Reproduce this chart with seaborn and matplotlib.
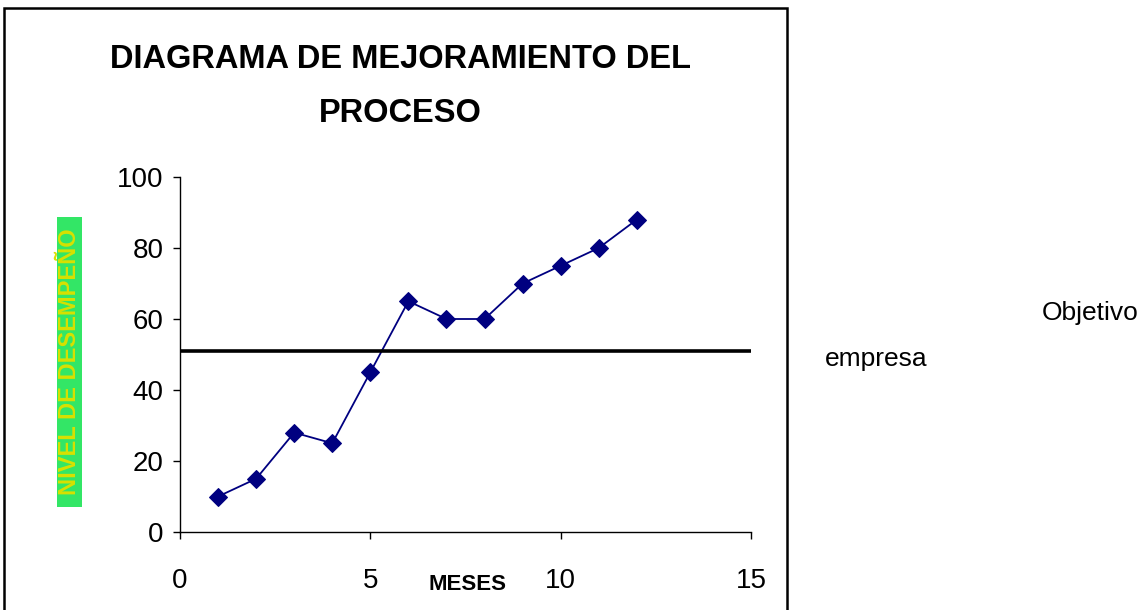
import matplotlib
matplotlib.use("Agg")
import matplotlib.pyplot as plt
import seaborn as sns
import pandas as pd
from matplotlib.patches import Rectangle

meses = [1, 2, 3, 4, 5, 6, 7, 8, 9, 10, 11, 12]
desempeno = [10, 15, 28, 25, 45, 65, 60, 60, 70, 75, 80, 88]
objetivo = 51
x_ticks = [0, 5, 10, 15]
y_ticks = [0, 20, 40, 60, 80, 100]

sns.set_theme(style="white")
plt.rcParams['font.family'] = ['Liberation Sans', 'DejaVu Sans']
plt.rcParams['text.color'] = 'black'

W, H = 1147, 610
fig = plt.figure(figsize=(W/100, H/100), dpi=100)
ax = fig.add_axes([180/W, 1-532/H, (751-180)/W, (532-177)/H])

df = pd.DataFrame({"MESES": meses, "NIVEL": desempeno})
sns.lineplot(data=df, x="MESES", y="NIVEL", ax=ax, color="#000080",
             marker="D", markersize=9, markeredgecolor="#000080",
             linewidth=1.3)
ax.axhline(objetivo, color="black", linewidth=2.6)

ax.set_xlim(0, 15)
ax.set_ylim(0, 100)
ax.set_xticks(x_ticks)
ax.set_yticks(y_ticks)
ax.tick_params(axis="both", labelsize=20, length=5, width=1, direction="out",
               color="black", labelcolor="black", left=True, bottom=True)
ax.tick_params(axis="x", pad=21)
ax.tick_params(axis="y", pad=7)
for s in ["top", "right"]:
    ax.spines[s].set_visible(False)
for s in ["left", "bottom"]:
    ax.spines[s].set_color("black")
    ax.spines[s].set_linewidth(1)

ax.set_xlabel("")
ax.set_ylabel("")

# x label
fig.text(467/W, 1-585/H, "MESES", ha="center", va="center", color="black",
         fontsize=16, fontweight="bold")

# y label with green background box
fig.patches.append(Rectangle((57/W, 1-507/H), 25/W, 290/H, transform=fig.transFigure,
                             facecolor="#33e666", edgecolor="none"))
fig.text(69.5/W, 1-362/H, "NIVEL DE DESEMPEÑO", rotation=90, ha="center", va="center",
         fontsize=17, fontweight="bold", color="#d8e000")

# title
fig.text(400/W, 1-60/H, "DIAGRAMA DE MEJORAMIENTO DEL", ha="center", va="center",
         fontsize=23.5, fontweight="bold", color="black")
fig.text(400/W, 1-113/H, "PROCESO", ha="center", va="center",
         fontsize=23.5, fontweight="bold", color="black")

# legend-like text
fig.text(1090/W, 1-320/H, "Objetivo", ha="center", va="baseline", fontsize=19, color="black")
fig.text(876/W, 1-366/H, "empresa", ha="center", va="baseline", fontsize=19, color="black")

# border
fig.patches.append(Rectangle((4/W, -0.05), (787-4)/W, 1.05 - 8/H,
                             transform=fig.transFigure, fill=False,
                             edgecolor="black", linewidth=1.8, clip_on=False))

fig.savefig("out.png", dpi=100)
